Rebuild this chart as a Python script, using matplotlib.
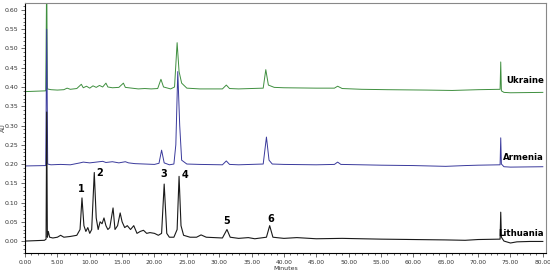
import matplotlib.pyplot as plt
from matplotlib.ticker import MultipleLocator, FormatStrFormatter

# Chromatogram traces as (minutes, AU) points
lit_t = [0, 3.0, 3.25, 3.35, 3.45, 3.6, 3.8, 4.3, 5.0, 5.5, 6.0, 7.0, 8.0, 8.5, 8.8, 9.1,
         9.4, 9.7, 10.0, 10.3, 10.7, 11.0, 11.3, 11.6, 11.9, 12.2, 12.5, 12.8, 13.1, 13.6,
         13.9, 14.3, 14.7, 15.0, 15.4, 15.8, 16.3, 16.8, 17.3, 17.8, 18.3, 18.8, 19.3, 20.0,
         20.6, 21.1, 21.5, 21.9, 22.3, 23.0, 23.5, 23.8, 24.1, 24.5, 25.5, 26.5, 27.2, 28.0,
         30.5, 31.2, 31.7, 33.0, 34.5, 35.5, 37.3, 37.8, 38.3, 40.0, 42.0, 45.0, 49.0, 52.0,
         55.0, 60.0, 65.0, 68.0, 70.0, 73.4, 73.5, 73.6, 74.0, 75.0, 76.0, 78.0, 80.0]
lit_v = [0.0, 0.002, 0.005, 0.335, 0.01, 0.025, 0.01, 0.008, 0.01, 0.015, 0.01, 0.012, 0.015,
         0.03, 0.112, 0.04, 0.025, 0.035, 0.02, 0.03, 0.178, 0.06, 0.03, 0.05, 0.045, 0.06,
         0.04, 0.03, 0.035, 0.086, 0.03, 0.04, 0.073, 0.05, 0.035, 0.04, 0.03, 0.04, 0.02,
         0.025, 0.028, 0.02, 0.022, 0.02, 0.015, 0.02, 0.148, 0.02, 0.01, 0.01, 0.03, 0.168,
         0.04, 0.015, 0.01, 0.01, 0.016, 0.01, 0.008, 0.03, 0.01, 0.007, 0.009, 0.006, 0.01,
         0.04, 0.01, 0.007, 0.009, 0.006, 0.007, 0.006, 0.005, 0.004, 0.003, 0.002, 0.004,
         0.005, 0.075, 0.01, 0.0, -0.005, -0.002, -0.001, -0.001]

arm_t = [0, 3.2, 3.35, 3.5, 4.0, 5.5, 7.0, 8.5, 9.0, 10.0, 11.0, 12.0, 12.5, 13.5, 14.5, 15.5,
         16.0, 17.0, 18.5, 20.0, 20.7, 21.1, 21.5, 22.3, 23.0, 23.3, 23.6, 23.9, 24.2, 25.0,
         27.0, 30.5, 31.1, 31.6, 33.0, 36.8, 37.3, 37.7, 38.2, 40.0, 45.0, 47.8, 48.3, 48.8,
         52.0, 55.0, 60.0, 65.0, 68.0, 70.0, 73.4, 73.5, 73.6, 74.0, 75.0, 80.0]
arm_v = [0.195, 0.196, 0.55, 0.20, 0.198, 0.199, 0.198, 0.203, 0.205, 0.203, 0.205, 0.207,
         0.204, 0.206, 0.203, 0.206, 0.203, 0.201, 0.200, 0.199, 0.202, 0.236, 0.203, 0.198,
         0.200, 0.25, 0.44, 0.30, 0.21, 0.200, 0.199, 0.198, 0.208, 0.199, 0.198, 0.200, 0.27,
         0.21, 0.200, 0.199, 0.198, 0.199, 0.205, 0.199, 0.198, 0.197, 0.196, 0.194, 0.196,
         0.197, 0.198, 0.268, 0.20, 0.193, 0.192, 0.193]

ukr_t = [0, 3.2, 3.35, 3.45, 4.0, 5.0, 6.0, 6.5, 7.0, 8.0, 8.7, 9.0, 9.5, 10.0, 10.5, 11.0,
         11.5, 12.0, 12.5, 12.8, 13.5, 14.5, 15.2, 15.5, 16.5, 17.5, 18.5, 19.5, 20.5, 21.0,
         21.4, 22.5, 23.1, 23.5, 23.8, 24.2, 25.0, 27.0, 30.5, 31.1, 31.6, 33.0, 36.8, 37.2,
         37.6, 38.5, 40.0, 45.0, 47.8, 48.3, 49.0, 52.0, 56.0, 62.0, 66.0, 70.0, 73.4, 73.5,
         73.6, 74.0, 75.0, 80.0]
ukr_v = [0.388, 0.39, 0.70, 0.395, 0.393, 0.392, 0.393, 0.397, 0.394, 0.396, 0.407, 0.398,
         0.402, 0.397, 0.403, 0.399, 0.404, 0.400, 0.410, 0.400, 0.398, 0.399, 0.410, 0.399,
         0.397, 0.395, 0.396, 0.395, 0.396, 0.420, 0.400, 0.395, 0.400, 0.515, 0.44, 0.41,
         0.397, 0.395, 0.395, 0.405, 0.396, 0.395, 0.397, 0.445, 0.405, 0.399, 0.398, 0.397,
         0.397, 0.402, 0.396, 0.394, 0.393, 0.392, 0.391, 0.393, 0.394, 0.465, 0.39, 0.386,
         0.385, 0.386]

peak_labels = ["1", "2", "3", "4", "5", "6"]
peak_t = [8.7, 11.6, 21.4, 24.7, 31.2, 38.0]
peak_y = [0.135, 0.177, 0.174, 0.171, 0.052, 0.058]

series_names = ["Ukraine", "Armenia", "Lithuania"]
series_y = [0.418, 0.218, 0.020]

fig = plt.figure(figsize=(5.5, 2.74), dpi=100)
ax = fig.add_axes([0.0455, 0.0766, 0.9473, 0.9124])

ax.plot(ukr_t, ukr_v, color="#3f8f3f", lw=0.7)
ax.plot(arm_t, arm_v, color="#3a3a9c", lw=0.7)
ax.plot(lit_t, lit_v, color="#1a1a1a", lw=0.8)

for lab, t, y in zip(peak_labels, peak_t, peak_y):
    ax.text(t, y, lab, ha="center", va="center", fontsize=7, fontweight="bold")
for name, y in zip(series_names, series_y):
    ax.text(80.2, y, name, ha="right", va="center", fontsize=6.2, fontweight="bold")

ax.set_xlim(0, 80.5)
ax.set_ylim(-0.031, 0.618)
ax.xaxis.set_major_locator(MultipleLocator(5))
ax.xaxis.set_minor_locator(MultipleLocator(1))
ax.yaxis.set_major_locator(MultipleLocator(0.05))
ax.yaxis.set_minor_locator(MultipleLocator(0.01))
ax.xaxis.set_major_formatter(FormatStrFormatter("%.2f"))
ax.yaxis.set_major_formatter(FormatStrFormatter("%.2f"))
ax.tick_params(which="both", direction="out", labelsize=4.5, colors="#333333", width=0.5)
ax.tick_params(axis="x", labelsize=4.3)
ax.tick_params(which="major", length=3, pad=2)
ax.tick_params(which="minor", length=1.5)
for s in ["top", "right"]:
    ax.spines[s].set_color("#888888")
for s in ax.spines.values():
    s.set_linewidth(0.8)

ax.set_xlabel("Minutes", fontsize=4.5, color="#333333", labelpad=1)
ax.set_ylabel("AU", fontsize=4.5, color="#333333")
ax.yaxis.set_label_coords(-0.037, 0.5)

plt.savefig("out.png")
